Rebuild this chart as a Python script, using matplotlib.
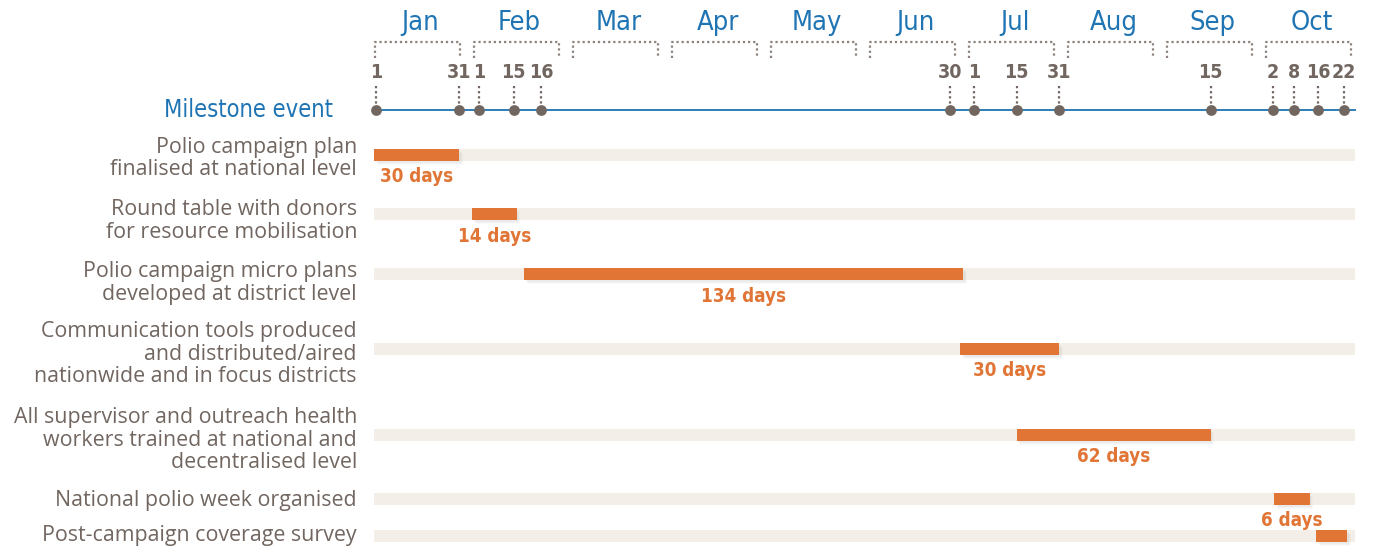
import numpy as np
import matplotlib.pyplot as plt
from matplotlib import font_manager

# data (x in "month units": Jan = 0, Feb = 1, ... as drawn on the timeline)
months = ["Jan", "Feb", "Mar", "Apr", "May", "Jun", "Jul", "Aug", "Sep", "Oct"]
milestone_days = ["1", "31", "1", "15", "16", "30", "1", "15", "31", "15", "2", "8", "16", "22"]
milestone_pos = [0.02, 0.86, 1.06, 1.41, 1.69, 5.82, 6.06, 6.49, 6.92, 8.45, 9.08, 9.29, 9.54, 9.80]

tasks = ["Polio campaign plan\nfinalised at national level",
         "Round table with donors\nfor resource mobilisation",
         "Polio campaign micro plans\ndeveloped at district level",
         "Communication tools produced\nand distributed/aired\nnationwide and in focus districts",
         "All supervisor and outreach health\nworkers trained at national and\ndecentralised level",
         "National polio week organised",
         "Post-campaign coverage survey"]
task_start = [0.00, 0.99, 1.52, 5.92, 6.49, 9.09, 9.52]
task_end = [0.86, 1.44, 5.95, 6.92, 8.45, 9.45, 9.83]
task_days = ["30 days", "14 days", "134 days", "30 days", "62 days", "6 days", ""]

# style
ORANGE = "#E07535"
TRACK = "#F3EFE8"
BROWN = "#716660"
BLUE = "#1F74B3"
DOTC = "#8C827B"
plain = ["Open Sans", "DejaVu Sans"]

cond = [f for f in font_manager.fontManager.ttflist
        if "condensed" in f.stretch.lower() or "narrow" in f.name.lower()
        or "condensed" in f.name.lower()]
if cond:
    narrow = dict(family=cond[0].name, stretch=cond[0].stretch)
else:
    narrow = dict(family="Roboto")

PX = 99.0      # pixels per month
X0 = 374.0     # pixel of Jan start


def px(x):
    return (x - X0) / PX


fig = plt.figure(figsize=(13.74, 5.48), dpi=100)
ax = fig.add_axes([0, 0, 1, 1])
ax.set_xlim(px(0), px(1374))
ax.set_ylim(548, 0)
ax.axis("off")

# month headers with dotted brackets
for i, m in enumerate(months):
    a, b = i + 0.01, i + 0.87
    ax.text(i + 0.47, 23, m, ha="center", va="center", fontsize=19.5,
            color=BLUE, **narrow)
    ax.plot([a, a, b, b], [58, 42, 42, 58], color=DOTC, lw=1.6,
            linestyle=(0, (1, 1.3)), solid_capstyle="butt")

# milestone line
ax.plot([milestone_pos[0], px(1355)], [110, 110], color=BLUE, lw=1.3, zorder=2)
ax.text(px(333), 110, "Milestone event", ha="right", va="center",
        fontsize=17, color=BLUE, **narrow)
for d, x in zip(milestone_days, milestone_pos):
    ax.text(x, 73, d, ha="center", va="center", fontsize=14,
            fontweight="bold", color=BROWN, **narrow)
    ax.plot([x, x], [86, 104], color=BROWN, lw=1.6, linestyle=(0, (1, 1.3)))
ax.scatter(milestone_pos, [110] * len(milestone_pos), s=60, color=BROWN,
           zorder=3, linewidths=0)

# task rows
rows = [155, 214, 274, 349, 435, 499, 536]
label_off = [3.5, 7, 9, 5, 5, 1.5, 0]
h = 12
for k, (t, s, e, dlab) in enumerate(zip(tasks, task_start, task_end, task_days)):
    y = rows[k]
    ax.barh(y, px(1355) - px(374), left=px(374), height=h, color=TRACK, zorder=1)
    # soft shadow
    for j, al in enumerate([0.06, 0.05, 0.04]):
        off = 1.5 + j * 1.2
        ax.barh(y + off, e - s, left=s + off / PX, height=h,
                color="#7a7a7a", alpha=al, zorder=2, linewidth=0)
    ax.barh(y, e - s, left=s, height=h, color=ORANGE, zorder=3, linewidth=0)
    if dlab:
        ax.text((s + e) / 2, y + 22, dlab, ha="center", va="center",
                fontsize=13.5, fontweight="bold", color=ORANGE, **narrow)
    ax.text(px(357), y + label_off[k], t, ha="right", va="center",
            fontsize=15.4, color=BROWN, family=plain, linespacing=1.12)

fig.savefig("out.png", dpi=100)
